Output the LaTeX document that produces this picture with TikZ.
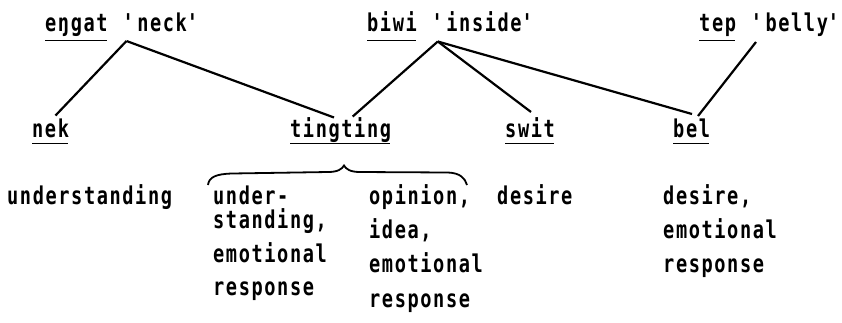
\documentclass[tikz,border=0pt]{standalone}
\usepackage{fontspec}
\newfontfamily\tw[FakeStretch=0.76,LetterSpace=6.5,BoldFont={DejaVu Sans Mono Bold}]{DejaVu Sans Mono}
\tikzset{
  txt/.style={inner sep=0pt, anchor=base west, font=\tw\bfseries\fontsize{24.5}{26}\selectfont},
  ul/.style={line width=1.6pt},
  link/.style={line width=2.2pt},
  bracepath/.style={line width=1.8pt}
}
\newcommand{\q}{\textquotesingle}
\begin{document}
\begin{tikzpicture}[x=1pt,y=-1pt]
\useasboundingbox (0,0) rectangle (842,322);
% top row
\node[txt] (engat) at (45,31) {eŋgat};
\node[txt] (neckg) at (122.4,31) {\q neck\q};
\node[txt] (biwi) at (367,31) {biwi};
\node[txt] (insideg) at (431.5,31) {\q inside\q};
\node[txt] (tep) at (699,31) {tep};
\node[txt] (bellyg) at (750.6,31) {\q belly\q};
% middle row
\node[txt] (nek) at (32,137) {nek};
\node[txt] (tingting) at (290,137) {tingting};
\node[txt] (swit) at (505,137) {swit};
\node[txt] (bel) at (673,137) {bel};
% underlines
\foreach \n in {engat,biwi,tep}
  \draw[ul] ([yshift=-9.5pt]\n.base west) -- ([yshift=-9.5pt,xshift=-1pt]\n.base east);
\foreach \n in {nek,tingting,swit,bel}
  \draw[ul] ([yshift=-6.5pt]\n.base west) -- ([yshift=-6.5pt,xshift=-1pt]\n.base east);
% junctions
\coordinate (jE) at (126.5,41);
\coordinate (jB) at (437.8,41.5);
\coordinate (jT) at (756,42);
\coordinate (eNek) at (55.5,115.5);
\coordinate (eTa) at (334,117.5);
\coordinate (eTb) at (352.7,116.5);
\coordinate (eSwit) at (531,112);
\coordinate (eBa) at (692,114);
\coordinate (eBb) at (698,116);
\draw[link] (jE) -- (eNek);
\draw[link] (jE) -- (eTa);
\draw[link] (jB) -- (eTb);
\draw[link] (jB) -- (eSwit);
\draw[link] (jB) -- (eBa);
\draw[link] (jT) -- (eBb);
% brace
\draw[bracepath] (208,185) .. controls (209,177) and (216,174) .. (232,173.5)
  -- (328,172) .. controls (338,172) and (342,169) .. (344,165.5)
  .. controls (346,169) and (350,172) .. (360,172)
  -- (448,172.5) .. controls (460,173) and (465,178) .. (467,185);
% bottom text
\node[txt] (und) at (7,204) {understanding};
\node[txt] (c1a) at (213,204) {under-};
\node[txt] (c1b) at (213,228) {standing,};
\node[txt] (c1c) at (213,262) {emotional};
\node[txt] (c1d) at (213,295) {response};
\node[txt] (c2a) at (369,204) {opinion,};
\node[txt] (c2b) at (369,238) {idea,};
\node[txt] (c2c) at (369,272) {emotional};
\node[txt] (c2d) at (369,307) {response};
\node[txt] (des) at (497,204) {desire};
\node[txt] (c4a) at (663,204) {desire,};
\node[txt] (c4b) at (663,238) {emotional};
\node[txt] (c4c) at (663,272) {response};
\end{tikzpicture}
\end{document}
